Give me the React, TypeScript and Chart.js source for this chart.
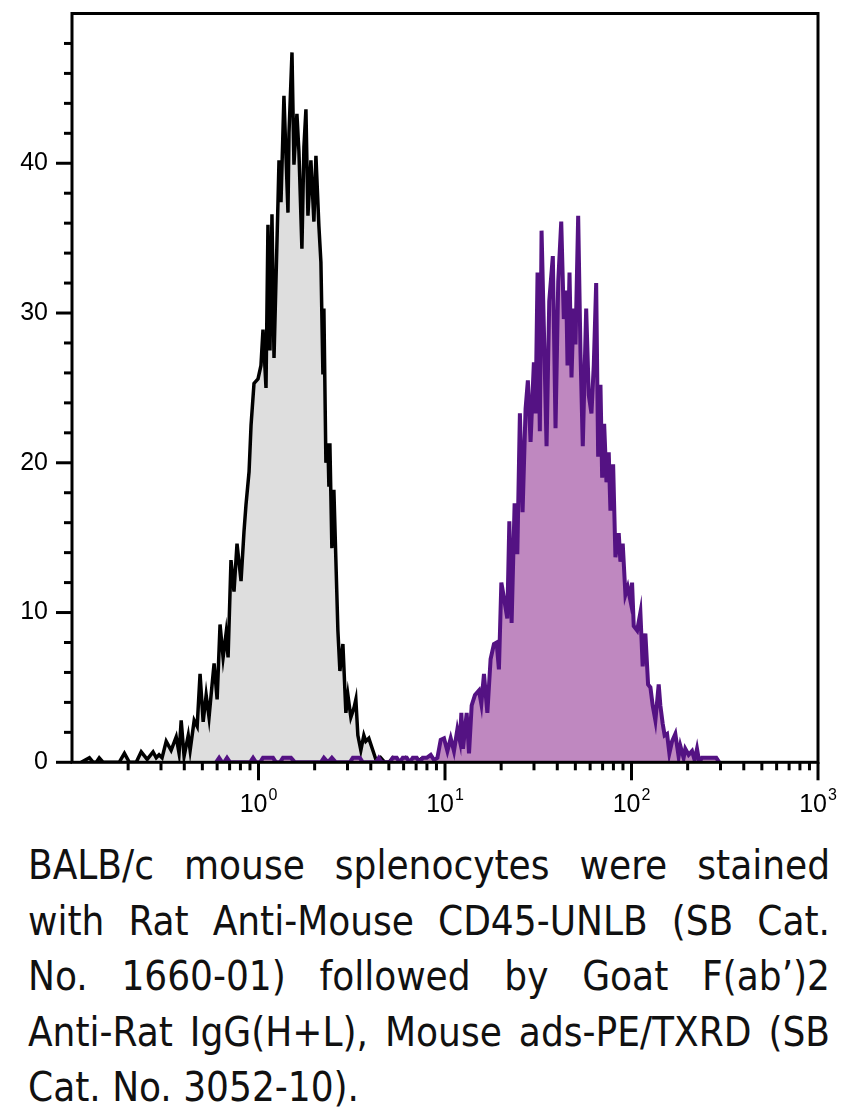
import React, { useEffect, useRef } from 'react';
import { Chart, registerables } from 'chart.js';

Chart.register(...registerables);

// Unstained control (grey histogram): fluorescence value, count
const controlX = [
  0.112, 0.124, 0.130, 0.135, 0.140, 0.147, 0.179, 0.191, 0.203, 0.221,
  0.235, 0.253, 0.272, 0.283, 0.293, 0.304, 0.320, 0.340, 0.362, 0.375,
  0.385, 0.399, 0.420, 0.430, 0.452, 0.469, 0.486, 0.505, 0.524, 0.543,
  0.557, 0.578, 0.600, 0.622, 0.646, 0.670, 0.687, 0.712, 0.739, 0.767,
  0.806, 0.836, 0.857, 0.890, 0.912, 0.946, 0.994, 1.031, 1.057, 1.097,
  1.124, 1.152, 1.181, 1.211, 1.272, 1.288, 1.320, 1.369, 1.404, 1.439,
  1.457, 1.512, 1.549, 1.607, 1.647, 1.709, 1.752, 1.796, 1.841, 1.910,
  1.982, 2.032, 2.108, 2.161, 2.215, 2.242, 2.298, 2.356, 2.385, 2.414,
  2.474, 2.536, 2.665, 2.732, 2.835, 2.941, 3.015, 3.128, 3.246, 3.327,
  3.410, 3.538, 3.671, 3.763, 3.905, 4.102, 4.256, 4.362, 4.528, 4.756,
  4.995, 5.248, 5.512, 5.864, 6.161, 6.471, 7.055, 7.413, 7.787,
];
const controlY = [
  0, 0.3, 0, 0, 0.3, 0, 0, 0.6, 0, 0,
  0.7, 0.2, 0.7, 0.3, 0.5, 0.3, 1.4, 0.8, 1.7, 0.6,
  2.8, 0.4, 1.8, 0.8, 2.8, 2.4, 5.9, 2.7, 4.5, 3.0,
  4.5, 6.6, 4.2, 9.2, 7.0, 8.6, 7.0, 13.5, 11.4, 14.6,
  12.1, 15.4, 17.2, 19.4, 22.5, 25.3, 25.6, 26.5, 28.9, 25.0,
  35.9, 27.5, 36.6, 27.0, 37.4, 40.2, 37.4, 44.5, 40.5, 36.7,
  42.0, 47.4, 39.9, 43.3, 40.8, 34.3, 41.1, 43.6, 36.5, 40.2,
  36.1, 40.5, 35.8, 33.4, 25.9, 30.3, 20.0, 21.3, 18.4, 21.3,
  14.3, 18.2, 8.8, 6.1, 7.9, 3.3, 4.5, 3.0, 3.6, 4.2,
  1.8, 0.8, 1.8, 1.4, 1.6, 0.8, 0.2, 0, 0.3, 0,
  0, 0.3, 0, 0, 0.3, 0, 0, 0.2, 0,
];

// CD45 stained (purple histogram): fluorescence value, count
const stainedX = [
  0.592, 0.615, 0.638, 0.654, 0.678, 0.704, 0.901, 0.935, 0.970, 1.019,
  1.057, 1.097, 1.152, 1.196, 1.241, 1.303, 1.353, 1.421, 1.493, 1.568,
  2.161, 2.242, 2.356, 2.474, 2.599, 3.090, 3.206, 3.368, 3.494, 3.626,
  4.256, 4.417, 4.583, 5.058, 5.248, 5.512, 5.721, 5.936, 6.237, 6.471,
  6.717, 7.055, 7.321, 7.597, 7.980,
  8.385, 8.733, 9.105, 9.484, 9.876, 10.30, 10.73, 11.17, 11.65, 12.03,
  12.24, 12.49, 13.07, 13.45, 13.90, 14.48, 15.21, 15.66, 16.18, 16.87,
  17.56, 18.30, 18.92, 19.46, 20.05, 20.70, 21.58, 22.13, 22.76, 23.62,
  24.42, 25.21, 26.06, 27.04, 27.82, 28.76, 29.96, 30.59, 31.35, 32.25,
  32.94, 33.88, 35.04, 36.22, 37.86, 39.14, 40.47, 42.00, 43.36, 44.67,
  45.39, 46.52, 47.68, 48.87, 50.08, 51.77, 53.26, 54.80, 57.15, 59.01,
  61.00, 62.76, 64.65, 66.26, 68.17, 69.61, 71.35, 73.40, 75.50, 77.09,
  79.71, 82.00, 85.41, 87.22, 89.73, 92.77, 95.44, 98.65, 100.7, 102.8,
  107.2, 111.6, 114.8, 118.7, 122.7, 126.3, 129.9, 134.3, 139.9, 142.8,
  146.9, 150.6, 155.1, 159.6, 165.0, 171.8, 178.9, 182.7, 190.3, 194.3,
  202.4, 211.1, 217.9, 224.5, 231.0, 238.8, 248.7, 264.5, 284.8, 295.5,
];
const stainedY = [
  0, 0.3, 0, 0, 0.3, 0, 0, 0.3, 0, 0,
  0.3, 0.3, 0.3, 0.3, 0, 0, 0.3, 0.3, 0.3, 0,
  0, 0.3, 0, 0.3, 0, 0, 0.3, 0.3, 0.3, 0,
  0, 0.3, 0, 0, 0.3, 0.3, 0, 0.3, 0.3, 0,
  0.3, 0.3, 0, 0.3, 0.3,
  0.5, 0.15, 0.3, 1.5, 1.6, 0.75, 1.6, 0.75, 2.2, 1.4,
  3.3, 0.9, 3.3, 0.6, 3.8, 4.5, 4.8, 3.9, 5.9, 3.3,
  6.9, 7.9, 8.0, 6.2, 12.0, 11.0, 9.6, 16.1, 9.3, 17.3,
  13.9, 23.3, 16.7, 23.6, 25.5, 21.4, 26.7, 23.3, 32.7, 22.1,
  35.5, 29.1, 21.1, 30.8, 33.8, 22.3, 32.1, 36.1, 29.6, 31.5,
  26.5, 32.7, 25.7, 30.3, 27.9, 36.5, 27.4, 21.1, 30.3, 24.5,
  23.3, 26.5, 32.0, 20.4, 25.2, 19.0, 22.6, 18.7, 20.7, 16.8,
  19.9, 13.7, 15.3, 13.4, 14.6, 11.2, 11.7, 10.8, 12.0, 9.1,
  8.8, 10.0, 6.4, 8.6, 5.2, 5.0, 3.8, 2.8, 5.2, 3.8,
  2.6, 1.8, 1.9, 0.6, 1.4, 1.9, 0.4, 1.1, 0.3, 0.9,
  0.5, 0.75, 0.15, 0.9, 0, 0.3, 0.3, 0.3, 0.3, 0,
];

const xTickExponents = [0, 1, 2, 3];
const yTickLabels = [0, 10, 20, 30, 40];

const captionLines = [
  'BALB/c mouse splenocytes were stained',
  'with Rat Anti-Mouse CD45-UNLB (SB Cat.',
  'No. 1660-01) followed by Goat F(ab’)2',
  'Anti-Rat IgG(H+L), Mouse ads-PE/TXRD (SB',
  'Cat. No. 3052-10).',
];

const TICK_FONT = '"Liberation Sans", Arial, sans-serif';

const axesPlugin = {
  id: 'histAxes',
  afterDatasetsDraw(chart: any) {
    const { ctx, chartArea: a, scales } = chart;
    const xs = scales.x;
    const ys = scales.y;
    ctx.save();
    ctx.strokeStyle = '#000';
    ctx.lineWidth = 3;
    ctx.lineCap = 'butt';
    ctx.strokeRect(a.left, a.top, a.right - a.left, a.bottom - a.top);
    // y tick marks
    for (let v = 0; v < 50; v += 2) {
      const py = ys.getPixelForValue(v);
      const major = v % 10 === 0;
      ctx.beginPath();
      ctx.moveTo(a.left, py);
      ctx.lineTo(a.left - (major ? 16 : 8), py);
      ctx.stroke();
    }
    // x tick marks
    const xt: number[] = [];
    for (let e = -1; e < 3; e++) {
      for (let m = 1; m <= 9; m++) {
        if (e === -1 && m === 1) continue;
        xt.push(m * Math.pow(10, e));
      }
    }
    xt.push(1000);
    for (const v of xt) {
      const px = xs.getPixelForValue(v);
      const major = Math.abs(Math.log10(v) - Math.round(Math.log10(v))) < 1e-9;
      ctx.beginPath();
      ctx.moveTo(px, a.bottom);
      ctx.lineTo(px, a.bottom + (major ? 18 : 8));
      ctx.stroke();
    }
    // x labels 10^n
    ctx.fillStyle = '#000';
    ctx.textAlign = 'left';
    ctx.textBaseline = 'alphabetic';
    for (const e of xTickExponents) {
      const px = xs.getPixelForValue(Math.pow(10, e));
      ctx.font = `25px ${TICK_FONT}`;
      const w1 = ctx.measureText('10').width;
      ctx.font = `16px ${TICK_FONT}`;
      const w2 = ctx.measureText(String(e)).width;
      const left = px - (w1 + w2 + 1) / 2;
      ctx.font = `25px ${TICK_FONT}`;
      ctx.fillText('10', left, a.bottom + 50);
      ctx.font = `16px ${TICK_FONT}`;
      ctx.fillText(String(e), left + w1 + 1, a.bottom + 38);
    }
    ctx.restore();
  },
};

function HistogramChart() {
  const ref = useRef<HTMLCanvasElement | null>(null);
  useEffect(() => {
    if (!ref.current) return;
    const chart = new Chart(ref.current, {
      type: 'line',
      data: {
        datasets: [
          {
            label: 'CD45 stained',
            data: stainedX.map((x, i) => ({ x, y: stainedY[i] })),
            borderColor: '#541283',
            backgroundColor: '#bf88c0',
            borderWidth: 4,
            fill: 'origin',
            pointRadius: 0,
            tension: 0,
            order: 0,
          },
          {
            label: 'Control',
            data: controlX.map((x, i) => ({ x, y: controlY[i] })),
            borderColor: '#000000',
            backgroundColor: '#dedede',
            borderWidth: 3.5,
            fill: 'origin',
            pointRadius: 0,
            tension: 0,
            order: 1,
          },
        ],
      },
      options: {
        responsive: false,
        animation: false,
        events: [],
        layout: { padding: { left: 0, right: 23, top: 5.5, bottom: 0 } },
        plugins: {
          legend: { display: false },
          tooltip: { enabled: false },
          title: { display: false },
        },
        scales: {
          x: {
            type: 'logarithmic',
            min: 0.1,
            max: 1000,
            grid: { display: false, drawTicks: false },
            border: { display: false },
            ticks: { display: false },
            afterFit: (s: any) => {
              s.height = 57.7;
              s.paddingLeft = 0;
              s.paddingRight = 0;
              s.paddingTop = 0;
              s.paddingBottom = 0;
            },
          },
          y: {
            type: 'linear',
            min: 0,
            max: 50,
            grid: { display: false, drawTicks: false },
            border: { display: false },
            ticks: {
              stepSize: 10,
              padding: 24,
              color: '#000',
              font: { size: 25, family: TICK_FONT },
              callback: (v: any) => (yTickLabels.includes(Number(v)) ? String(v) : ''),
            },
            afterFit: (s: any) => {
              s.width = 64;
              s.paddingTop = 0;
              s.paddingBottom = 0;
              s.paddingLeft = 0;
              s.paddingRight = 0;
            },
          },
        },
      },
      plugins: [axesPlugin],
    });
    return () => chart.destroy();
  }, []);
  return (
    <div style={{ width: 833, height: 812 }}>
      <canvas ref={ref} width={833} height={812} style={{ display: 'block' }} />
    </div>
  );
}

export default function App() {
  return (
    <div style={{ width: 833 }}>
      <HistogramChart />
      <div
        style={{
          marginTop: 18,
          marginLeft: 20,
          width: 802,
          fontFamily: '"Liberation Sans Narrow", "DejaVu Sans Condensed", "Open Sans", sans-serif',
          fontStretch: 'condensed',
          fontSize: 40,
          lineHeight: '55.5px',
          color: '#111',
        }}
      >
        {captionLines.map((line, i) => (
          <div
            key={i}
            style={{
              textAlign: 'justify',
              textAlignLast: i === captionLines.length - 1 ? 'left' : 'justify',
              whiteSpace: 'nowrap',
            }}
          >
            {line}
          </div>
        ))}
      </div>
    </div>
  );
}
